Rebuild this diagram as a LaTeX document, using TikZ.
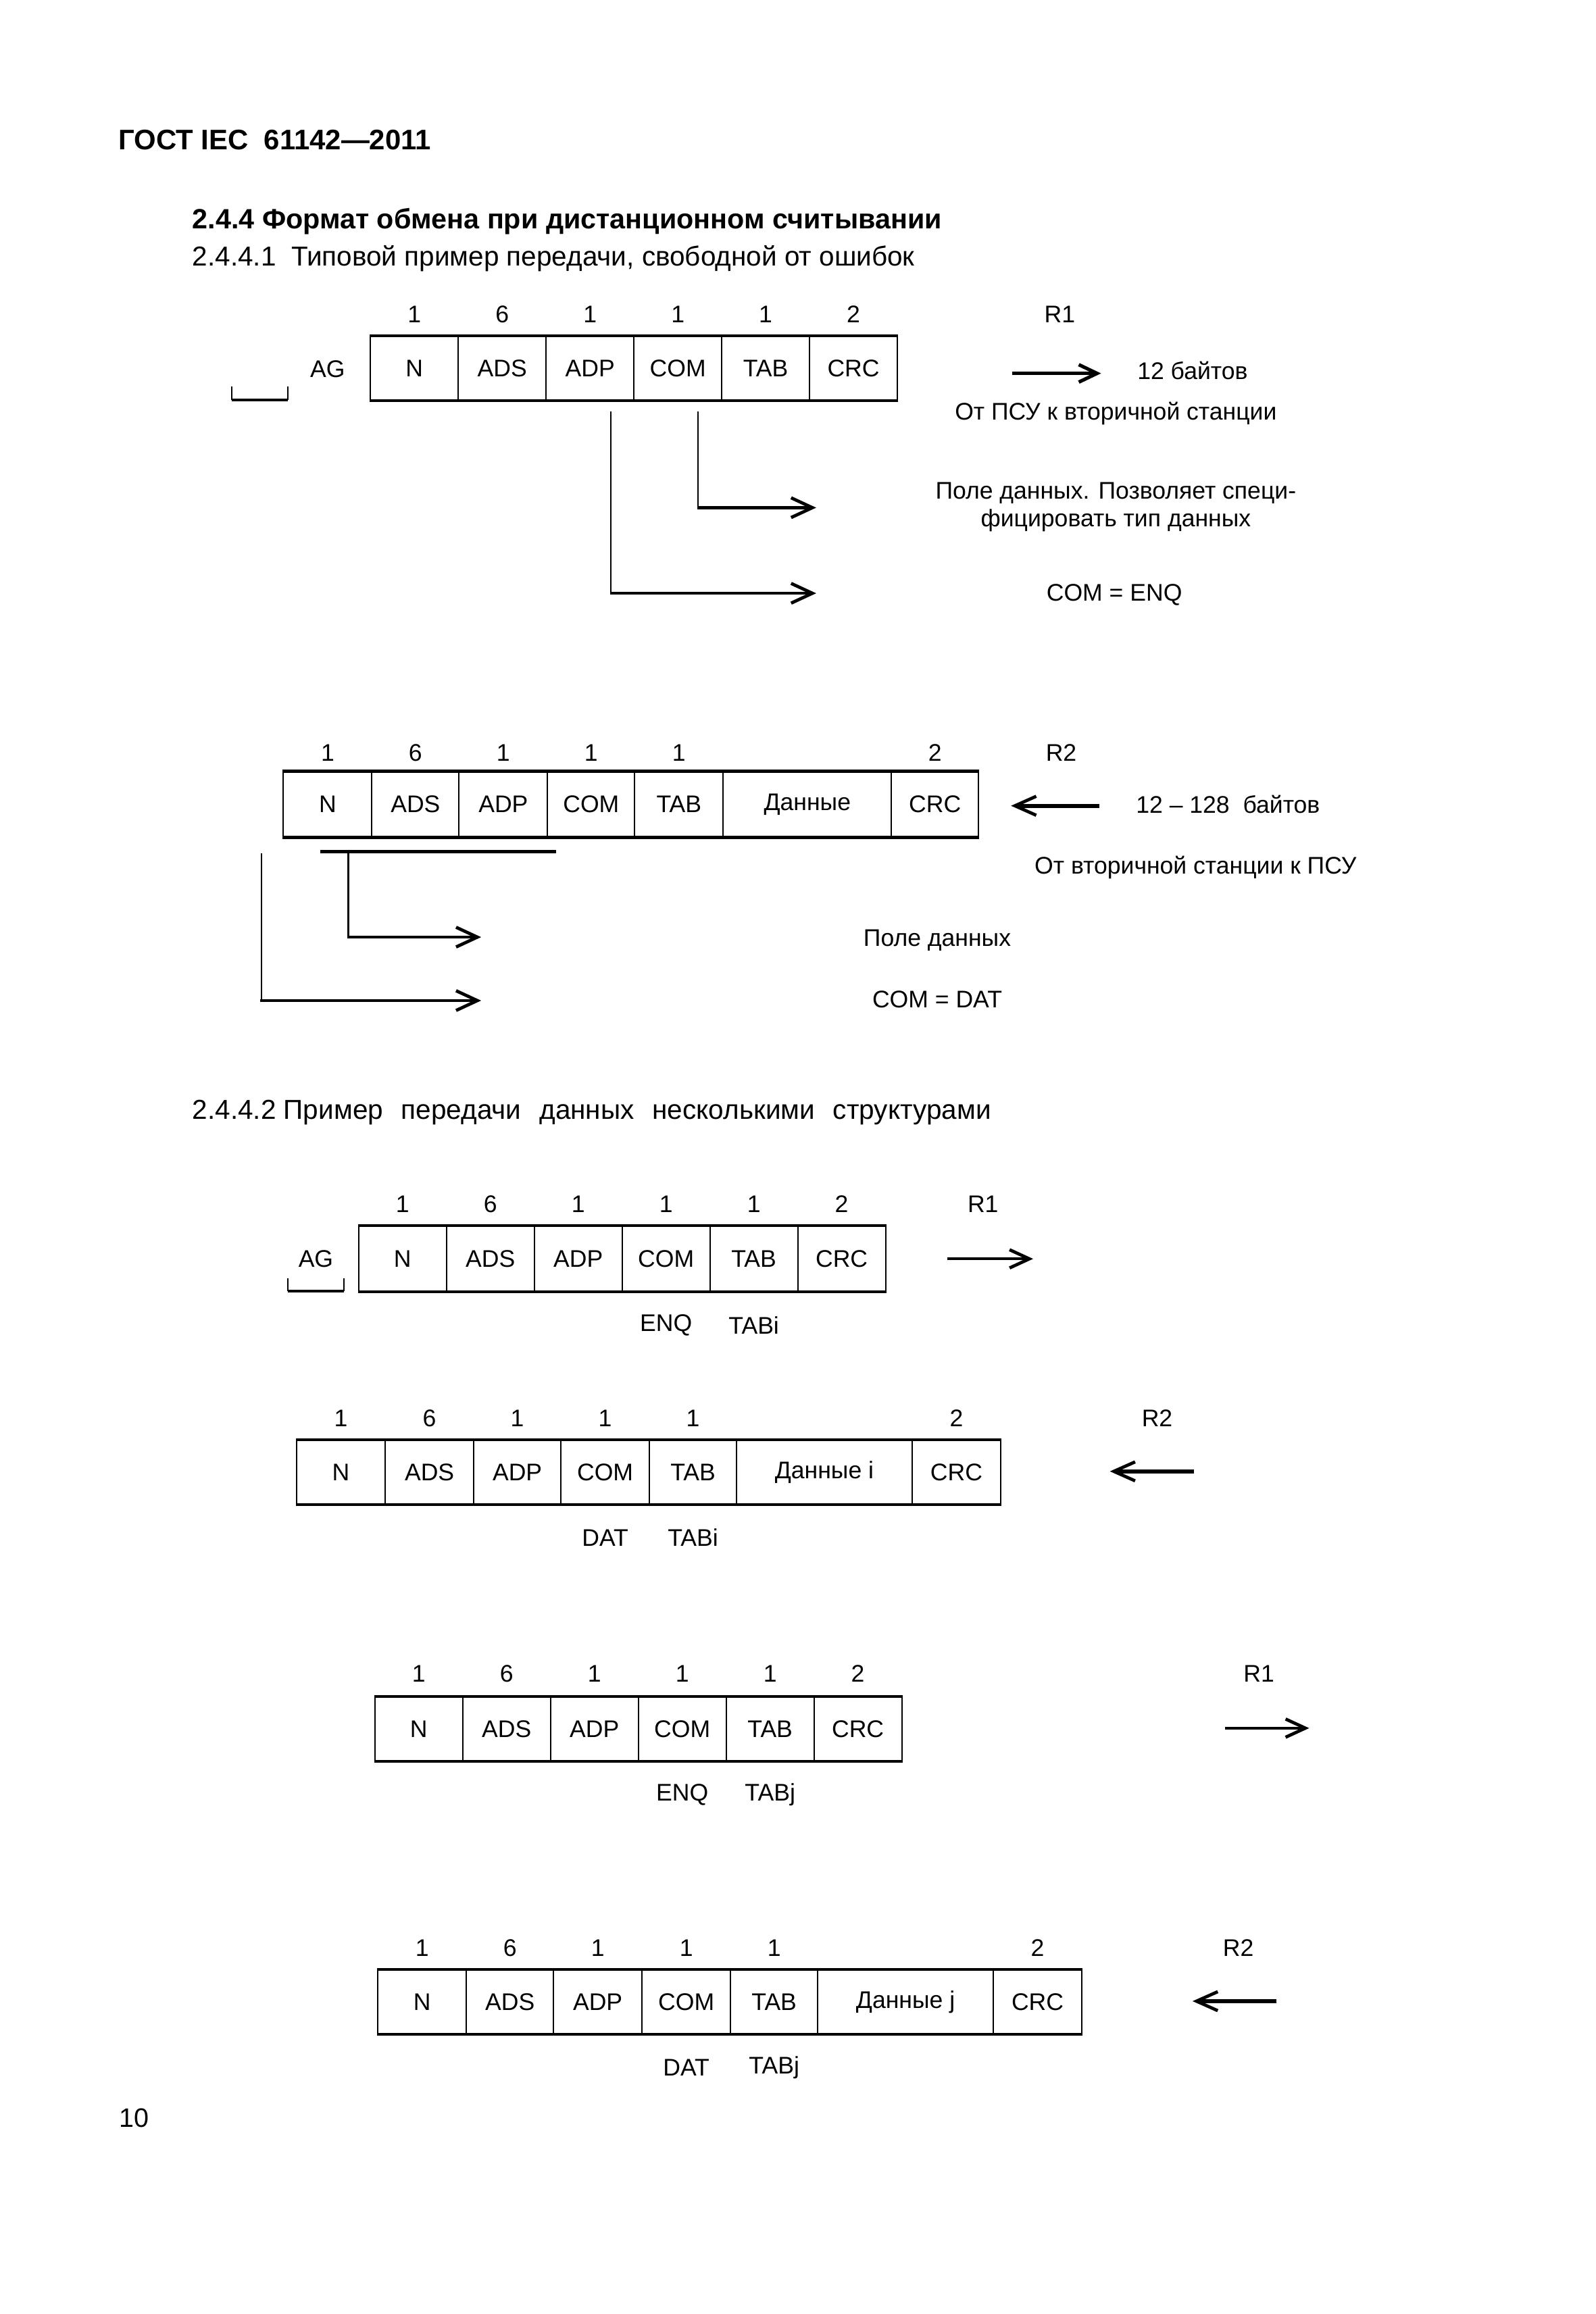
\documentclass[tikz,border=0pt]{standalone}
\usepackage{fontspec}
\setmainfont{Liberation Sans}
\usetikzlibrary{arrows.meta}
\def\U{0.19426mm}
\newcommand\fs{\fontsize{9}{10.5}\selectfont}
\newcommand\wsp{\hspace{6.8pt}}
\begin{document}
\begin{tikzpicture}[x=0.19426mm,y=-0.19426mm,
  cell/.style={draw,line width=0.5pt,inner sep=0pt,font=\fs,minimum height=#1*\U},
  cell/.default=43,
  lbl/.style={inner sep=0pt,font=\fs},
  thickline/.style={line width=1.05pt},
  thinline/.style={line width=0.55pt},
  conn/.style={line width=1.1pt,-{Straight Barb[length=2.8mm,width=2.6mm,line width=1.2pt]}},
  bigarrow/.style={line width=1.3pt,-{Straight Barb[length=2.4mm,width=2.3mm,line width=1.3pt]}},
  smallarrow/.style={line width=1pt,-{Straight Barb[length=2.6mm,width=2.4mm,line width=1.2pt]}},
  leftarrow/.style={line width=1.5pt,-{Straight Barb[length=2.8mm,width=2.5mm,line width=1.2pt]}},
]
\useasboundingbox (0,0) rectangle (1081,1568);
\fill[white] (0,0) rectangle (1081,1568);

% header
\node[inner sep=0pt,anchor=west,font=\fontsize{10.6}{12}\selectfont\bfseries] (hdr) at (80,95) {ГОСТ IEC\ \ 61142—2011};
\node[inner sep=0pt,anchor=west,font=\fontsize{10.45}{12}\selectfont\bfseries] (sec) at (130,150) {2.4.4 Формат обмена при дистанционном считывании};
\node[inner sep=0pt,anchor=west,font=\fontsize{10.25}{12}\selectfont] (sub1) at (130,175) {2.4.4.1\ \ Типовой пример передачи, свободной от ошибок};

% ---------- diagram 1 ----------
\node[cell,minimum width=59.5*\U] (a1) at (280.75,249.5) {N};
\node[cell,minimum width=59.5*\U] (a2) at (340.25,249.5) {ADS};
\node[cell,minimum width=59.5*\U] (a3) at (399.75,249.5) {ADP};
\node[cell,minimum width=59.5*\U] (a4) at (459.25,249.5) {COM};
\node[cell,minimum width=59.5*\U] (a5) at (518.75,249.5) {TAB};
\node[cell,minimum width=59.5*\U] (a6) at (578.25,249.5) {CRC};
\draw[thickline] (a1.north west) -- (a6.north east);
\draw[thickline] (a1.south west) -- (a6.south east);
\node[lbl] (an1) at (280.75,213) {1};
\node[lbl] (an2) at (340.25,213) {6};
\node[lbl] (an3) at (399.75,213) {1};
\node[lbl] (an4) at (459.25,213) {1};
\node[lbl] (an5) at (518.75,213) {1};
\node[lbl] (an6) at (578.25,213) {2};
\node[lbl] (ar1) at (718,213) {R1};
\node[lbl] (aag) at (222,250) {AG};
\draw[thinline] (157,262) -- (157,271) (195,262) -- (195,271);
\draw[thickline] (157,271) -- (195,271);
\coordinate (ara) at (686,253);
\coordinate (arb) at (746,253);
\draw[bigarrow] (ara) -- (arb);
\node[lbl] (a12) at (808,251) {12 байтов};
\node[lbl] (adir) at (756,280) {От ПСУ к вторичной станции};
\coordinate (c1s) at (414,279);
\coordinate (c1e) at (553,402);
\coordinate (c2s) at (473,279);
\coordinate (c2e) at (553,344);
\draw[thinline] (c1s) -- (c1s |- c1e);
\draw[conn] ([xshift=-0.3pt]c1s |- c1e) -- (c1e);
\draw[thinline] (c2s) -- (c2s |- c2e);
\draw[conn] ([xshift=-0.3pt]c2s |- c2e) -- (c2e);
\node[lbl,align=center] (apole) at (756,343.5) {Поле данных. Позволяет специ-\\фицировать тип данных};
\node[lbl] (aenq) at (755,403) {COM = ENQ};

% ---------- diagram 2 ----------
\node[cell=44,minimum width=60*\U] (b1) at (222,545) {N};
\node[cell=44,minimum width=59*\U] (b2) at (281.5,545) {ADS};
\node[cell=44,minimum width=60*\U] (b3) at (341,545) {ADP};
\node[cell=44,minimum width=59*\U] (b4) at (400.5,545) {COM};
\node[cell=44,minimum width=60*\U] (b5) at (460,545) {TAB};
\node[cell=44,minimum width=114*\U] (b6) at (547,545) {Данные};
\node[cell=44,minimum width=59*\U] (b7) at (633.5,545) {CRC};
\draw[thickline] (b1.north west) -- (b7.north east);
\draw[thickline] (b1.south west) -- (b7.south east);
\node[lbl] (bn1) at (222,510) {1};
\node[lbl] (bn2) at (281.5,510) {6};
\node[lbl] (bn3) at (341,510) {1};
\node[lbl] (bn4) at (400.5,510) {1};
\node[lbl] (bn5) at (460,510) {1};
\node[lbl] (bn7) at (633.5,510) {2};
\node[lbl] (br2) at (719,510) {R2};
\coordinate (bra) at (745,546);
\coordinate (brb) at (685,546);
\draw[leftarrow] (bra) -- (brb);
\node[lbl] (b12) at (832,545) {12 – 128\ \ байтов};
\node[lbl] (bdir) at (810,588) {От вторичной станции к ПСУ};
\coordinate (bbarl) at (217,577);
\coordinate (bbarr) at (377,577);
\draw[line width=1.3pt] (bbarl) -- (bbarr);
\coordinate (d1s) at (236,577);
\coordinate (d1e) at (326,635);
\coordinate (d2s) at (177,578);
\coordinate (d2e) at (326,678);
\draw[thinline] (d1s) -- (d1s |- d1e);
\draw[conn] ([xshift=-0.3pt]d1s |- d1e) -- (d1e);
\draw[thinline] (d2s) -- (d2s |- d2e);
\draw[conn] ([xshift=-0.3pt]d2s |- d2e) -- (d2e);
\node[lbl] (bpole) at (635,637) {Поле данных};
\node[lbl] (bdat) at (635,677) {COM = DAT};

% section 2.4.4.2
\node[inner sep=0pt,anchor=west,font=\fontsize{10.25}{12}\selectfont] (sub2) at (130,754) {2.4.4.2 Пример\wsp передачи\wsp данных\wsp несколькими\wsp структурами};

% ---------- diagram 3 ----------
\node[cell=44,minimum width=59.5*\U] (e1) at (272.75,853) {N};
\node[cell=44,minimum width=59.5*\U] (e2) at (332.25,853) {ADS};
\node[cell=44,minimum width=59.5*\U] (e3) at (391.75,853) {ADP};
\node[cell=44,minimum width=59.5*\U] (e4) at (451.25,853) {COM};
\node[cell=44,minimum width=59.5*\U] (e5) at (510.75,853) {TAB};
\node[cell=44,minimum width=59.5*\U] (e6) at (570.25,853) {CRC};
\draw[thickline] (e1.north west) -- (e6.north east);
\draw[thickline] (e1.south west) -- (e6.south east);
\node[lbl] (en1) at (272.75,816) {1};
\node[lbl] (en2) at (332.25,816) {6};
\node[lbl] (en3) at (391.75,816) {1};
\node[lbl] (en4) at (451.25,816) {1};
\node[lbl] (en5) at (510.75,816) {1};
\node[lbl] (en6) at (570.25,816) {2};
\node[lbl] (er1) at (666,816) {R1};
\node[lbl] (eag) at (214,853) {AG};
\draw[thinline] (195,866) -- (195,875) (233,866) -- (233,875);
\draw[thickline] (195,875) -- (233,875);
\coordinate (era) at (642,853);
\coordinate (erb) at (700,853);
\draw[smallarrow] (era) -- (erb);
\node[lbl] (eenq) at (451.25,898) {ENQ};
\node[lbl] (etab) at (510.75,898) {TABi};

% ---------- diagram 4 ----------
\node[cell,minimum width=60*\U] (f1) at (231,997.5) {N};
\node[cell,minimum width=60*\U] (f2) at (291,997.5) {ADS};
\node[cell,minimum width=59*\U] (f3) at (350.5,997.5) {ADP};
\node[cell,minimum width=60*\U] (f4) at (410,997.5) {COM};
\node[cell,minimum width=59*\U] (f5) at (469.5,997.5) {TAB};
\node[cell,minimum width=119*\U] (f6) at (558.5,997.5) {Данные i};
\node[cell,minimum width=60*\U] (f7) at (648,997.5) {CRC};
\draw[thickline] (f1.north west) -- (f7.north east);
\draw[thickline] (f1.south west) -- (f7.south east);
\node[lbl] (fn1) at (231,961) {1};
\node[lbl] (fn2) at (291,961) {6};
\node[lbl] (fn3) at (350.5,961) {1};
\node[lbl] (fn4) at (410,961) {1};
\node[lbl] (fn5) at (469.5,961) {1};
\node[lbl] (fn7) at (648,961) {2};
\node[lbl] (fr2) at (784,961) {R2};
\coordinate (fra) at (809,997);
\coordinate (frb) at (752,997);
\draw[leftarrow] (fra) -- (frb);
\node[lbl] (fdat) at (410,1042) {DAT};
\node[lbl] (ftab) at (469.5,1042) {TABi};

% ---------- diagram 5 ----------
\node[cell,minimum width=59.5*\U] (g1) at (283.75,1171.5) {N};
\node[cell,minimum width=59.5*\U] (g2) at (343.25,1171.5) {ADS};
\node[cell,minimum width=59.5*\U] (g3) at (402.75,1171.5) {ADP};
\node[cell,minimum width=59.5*\U] (g4) at (462.25,1171.5) {COM};
\node[cell,minimum width=59.5*\U] (g5) at (521.75,1171.5) {TAB};
\node[cell,minimum width=59.5*\U] (g6) at (581.25,1171.5) {CRC};
\draw[thickline] (g1.north west) -- (g6.north east);
\draw[thickline] (g1.south west) -- (g6.south east);
\node[lbl] (gn1) at (283.75,1134) {1};
\node[lbl] (gn2) at (343.25,1134) {6};
\node[lbl] (gn3) at (402.75,1134) {1};
\node[lbl] (gn4) at (462.25,1134) {1};
\node[lbl] (gn5) at (521.75,1134) {1};
\node[lbl] (gn6) at (581.25,1134) {2};
\node[lbl] (gr1) at (853,1134) {R1};
\coordinate (gra) at (830,1171);
\coordinate (grb) at (887,1171);
\draw[smallarrow] (gra) -- (grb);
\node[lbl] (genq) at (462.25,1216) {ENQ};
\node[lbl] (gtab) at (521.75,1216) {TABj};

% ---------- diagram 6 ----------
\node[cell,minimum width=60*\U] (h1) at (286,1356.5) {N};
\node[cell,minimum width=59*\U] (h2) at (345.5,1356.5) {ADS};
\node[cell,minimum width=60*\U] (h3) at (405,1356.5) {ADP};
\node[cell,minimum width=60*\U] (h4) at (465,1356.5) {COM};
\node[cell,minimum width=59*\U] (h5) at (524.5,1356.5) {TAB};
\node[cell,minimum width=119*\U] (h6) at (613.5,1356.5) {Данные j};
\node[cell,minimum width=60*\U] (h7) at (703,1356.5) {CRC};
\draw[thickline] (h1.north west) -- (h7.north east);
\draw[thickline] (h1.south west) -- (h7.south east);
\node[lbl] (hn1) at (286,1320) {1};
\node[lbl] (hn2) at (345.5,1320) {6};
\node[lbl] (hn3) at (405,1320) {1};
\node[lbl] (hn4) at (465,1320) {1};
\node[lbl] (hn5) at (524.5,1320) {1};
\node[lbl] (hn7) at (703,1320) {2};
\node[lbl] (hr2) at (839,1320) {R2};
\coordinate (hra) at (865,1356);
\coordinate (hrb) at (808,1356);
\draw[leftarrow] (hra) -- (hrb);
\node[lbl] (hdat) at (465,1401) {DAT};
\node[lbl] (htab) at (524.5,1401) {TABj};

% page number
\node[inner sep=0pt,font=\fontsize{10}{12}\selectfont] (pg) at (91,1435) {10};
\end{tikzpicture}
\end{document}
